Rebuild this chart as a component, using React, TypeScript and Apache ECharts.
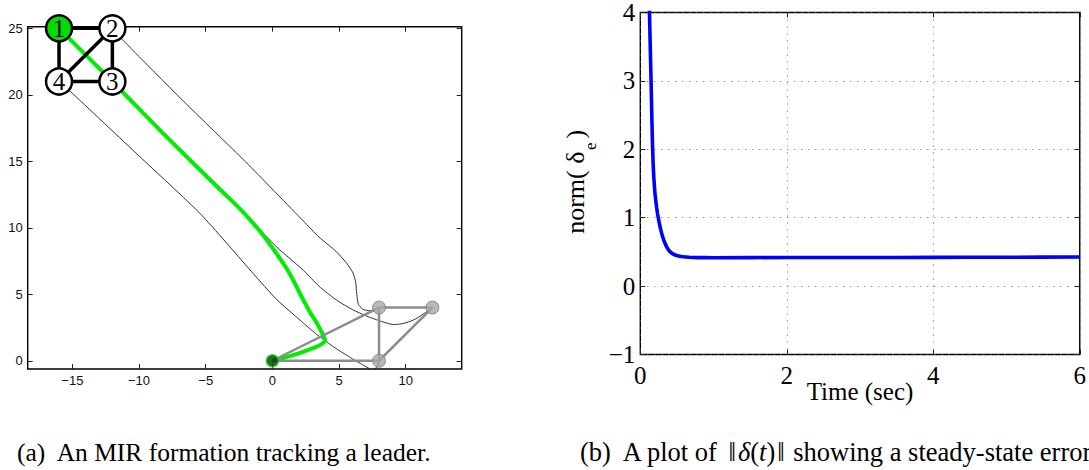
import React, { useEffect, useRef } from "react";
import * as echarts from "echarts";

// ---------- (a) formation plot ----------
const xTicksA = [-15, -10, -5, 0, 5, 10];
const yTicksA = [0, 5, 10, 15, 20, 25];
const nodeLabels = ["1", "2", "3", "4"];

// agent positions at the start (leader first) and in the final square formation
const startPositions = [
  [0, 0],
  [8, 4],
  [12, 4],
  [8, 0],
];
const finalPositions = [
  [-16, 25],
  [-12, 25],
  [-12, 21],
  [-16, 21],
];
// sensing graph, as index pairs into the position lists
const formationEdges = [
  [0, 1],
  [0, 3],
  [1, 2],
  [1, 3],
  [3, 2],
];

// leader trajectory
const leaderPath = [
  [0, 0], [0.7, 0.18], [1.4, 0.38], [2.1, 0.6], [2.7, 0.82], [3.3, 1.05],
  [3.75, 1.3], [3.95, 1.55], [3.8, 1.95], [3.3, 2.9], [2.85, 3.6], [2.2, 4.8],
  [1.6, 6.0], [1.0, 7.05], [0.35, 8.0], [-0.5, 9.2], [-1.45, 10.35], [-2.5, 11.5],
  [-4, 12.95], [-8.2, 17.1], [-12, 21], [-16, 25],
];
// follower trajectories
const agent2Path = [
  [8, 4], [7.35, 3.76], [6.8, 3.86], [6.45, 4.25], [6.33, 5.0], [6.25, 5.9],
  [6.05, 6.6], [5.6, 7.3], [4.8, 8.2], [3.5, 9.3], [2.33, 10.5], [-2, 14.95],
  [-6.65, 19.5], [-11.3, 24.2], [-12, 25],
];
const agent3Path = [
  [12, 4], [11.3, 3.5], [10.6, 3.07], [9.8, 2.8], [9.1, 2.72], [8.2, 2.95],
  [7.1, 3.35], [6.0, 3.85], [4.83, 4.55], [3.5, 5.6], [2.33, 6.8], [0.33, 8.55],
  [-1.45, 10.4], [-5, 14], [-8.5, 17.5], [-12, 21],
];
const agent4Path = [
  [8, 0], [7.9, -0.4], [7.5, -0.72], [7.2, -0.55], [6.0, 0.15], [4.58, 1.05],
  [3.3, 2.0], [2.08, 3.05], [0.33, 4.6], [-1.43, 6.55], [-5.4, 11.05],
  [-10, 15.4], [-15.2, 20.3], [-16, 21],
];

// ---------- (b) error norm plot ----------
const timeSec = [
  0.08, 0.1, 0.125, 0.136, 0.147, 0.157, 0.167, 0.175, 0.183, 0.192, 0.2, 0.209,
  0.222, 0.235, 0.247, 0.265, 0.285, 0.304, 0.33, 0.36, 0.4, 0.45, 0.51, 0.58,
  0.67, 0.78, 1.0, 2.0, 3.0, 4.0, 5.0, 6.0,
];
const deltaNorm = [
  6.0, 5.05, 4.0, 3.5, 3.0, 2.5, 2.05, 1.8, 1.62, 1.47, 1.36, 1.27,
  1.155, 1.06, 0.99, 0.89, 0.8, 0.725, 0.645, 0.575, 0.51, 0.468, 0.443, 0.43,
  0.421, 0.417, 0.415, 0.418, 0.418, 0.42, 0.422, 0.425,
];

const serif = "'Liberation Serif', 'Times New Roman', serif";
const sans = "'Liberation Sans', Arial, Helvetica, sans-serif";
const minus = (v: number) => String(v).replace("-", "\u2212");

const tickOnly = {
  axisLine: { show: false, onZero: false },
  axisLabel: { show: false },
  splitLine: { show: false },
};
const noLine = { show: false, onZero: false };

function buildOption(): any {
  const green = "#00ee00";
  const thin = (data: number[][]) => ({
    type: "line",
    xAxisIndex: 0,
    yAxisIndex: 0,
    data,
    symbol: "none",
    smooth: 0.2,
    clip: true,
    silent: true,
    lineStyle: { color: "#1a1a1a", width: 0.9 },
    z: 2,
  });
  const edge = (a: number[], b: number[], color: string, width: number, z: number) => ({
    type: "line",
    xAxisIndex: 0,
    yAxisIndex: 0,
    data: [a, b],
    symbol: "none",
    silent: true,
    lineStyle: { color, width },
    z,
  });

  const series: any[] = [
    thin(agent2Path),
    thin(agent3Path),
    thin(agent4Path),
    {
      type: "line",
      xAxisIndex: 0,
      yAxisIndex: 0,
      data: leaderPath,
      symbol: "none",
      smooth: 0.2,
      silent: true,
      lineStyle: { color: green, width: 4 },
      z: 3,
    },
    ...formationEdges.map(([a, b]) => edge(startPositions[a], startPositions[b], "#8c8c8c", 2.5, 4)),
    {
      type: "scatter",
      xAxisIndex: 0,
      yAxisIndex: 0,
      clip: false,
      silent: true,
      data: startPositions.map((p, i) => ({
        value: p,
        symbolSize: i === 0 ? 12 : 13,
        itemStyle:
          i === 0
            ? { color: "#003800", borderColor: "#00dd00", borderWidth: 1.5 }
            : { color: "#a8a8a8", borderColor: "#7d7d7d", borderWidth: 1 },
      })),
      z: 5,
    },
    ...formationEdges.map(([a, b]) => edge(finalPositions[a], finalPositions[b], "#000", 3.5, 6)),
    {
      type: "scatter",
      xAxisIndex: 0,
      yAxisIndex: 0,
      clip: false,
      silent: true,
      symbolSize: 26,
      data: finalPositions.map((p, i) => ({
        value: p,
        itemStyle: { color: i === 0 ? "#00dd00" : "#ffffff", borderColor: "#000", borderWidth: 2.5, opacity: 1 },
      })),
      label: {
        show: true,
        position: "inside",
        formatter: (p: any) => nodeLabels[p.dataIndex],
        fontFamily: serif,
        fontSize: 25,
        color: "#000",
        textBorderWidth: 0,
        textBorderColor: "transparent",
      },
      z: 7,
    },
    {
      type: "line",
      xAxisIndex: 2,
      yAxisIndex: 2,
      data: timeSec.map((t, i) => [t, deltaNorm[i]]),
      symbol: "none",
      smooth: 0.1,
      clip: true,
      silent: true,
      lineStyle: { color: "#0000ff", width: 3.6 },
      z: 3,
    },
  ];

  const tickA = (vals: number[]) => ({
    inside: true,
    length: 5,
    customValues: vals,
    lineStyle: { color: "#222", width: 1 },
  });
  const tickB = { inside: true, length: 5, lineStyle: { color: "#222", width: 1 } };
  const dotted = { show: true, lineStyle: { color: "#666", width: 1, type: [1, 6] } };

  return {
    animation: false,
    backgroundColor: "#fff",
    grid: [
      { left: 27.7, top: 26.7, width: 434, height: 342.3, show: true, borderColor: "#000", borderWidth: 1.4 },
      { left: 640.3, top: 11, width: 439.7, height: 343.5, show: true, borderColor: "#000", borderWidth: 1.4 },
    ],
    xAxis: [
      {
        type: "value", gridIndex: 0, min: -18.35, max: 14.2,
        axisLine: noLine, splitLine: { show: false },
        axisTick: tickA(xTicksA),
        axisLabel: { customValues: xTicksA, formatter: minus, fontFamily: sans, fontSize: 13, color: "#111", margin: 5 },
      },
      { type: "value", gridIndex: 0, position: "top", min: -18.35, max: 14.2, axisTick: tickA(xTicksA), ...tickOnly },
      {
        type: "value", gridIndex: 1, min: 0, max: 6, interval: 2,
        axisLine: noLine, splitLine: dotted, axisTick: tickB,
        axisLabel: { formatter: minus, fontFamily: serif, fontSize: 25, color: "#000", margin: 8 },
      },
      { type: "value", gridIndex: 1, position: "top", min: 0, max: 6, interval: 2, axisTick: tickB, ...tickOnly },
    ],
    yAxis: [
      {
        type: "value", gridIndex: 0, min: -0.62, max: 25.12,
        axisLine: noLine, splitLine: { show: false },
        axisTick: tickA(yTicksA),
        axisLabel: { customValues: yTicksA, formatter: minus, fontFamily: sans, fontSize: 13, color: "#111", margin: 5 },
      },
      { type: "value", gridIndex: 0, position: "right", min: -0.62, max: 25.12, axisTick: tickA(yTicksA), ...tickOnly },
      {
        type: "value", gridIndex: 1, min: -1, max: 4, interval: 1,
        axisLine: noLine, splitLine: dotted, axisTick: tickB,
        axisLabel: { formatter: minus, fontFamily: serif, fontSize: 25, color: "#000", margin: 5 },
      },
      { type: "value", gridIndex: 1, position: "right", min: -1, max: 4, interval: 1, axisTick: tickB, ...tickOnly },
    ],
    series,
    graphic: [
      {
        type: "text",
        x: 860,
        y: 391,
        style: {
          text: "Time (sec)", fontFamily: serif, fontSize: 25, fill: "#000",
          align: "center", verticalAlign: "middle", textAlign: "center", textVerticalAlign: "middle",
        },
      },
      {
        type: "group",
        x: 584,
        y: 182.5,
        rotation: Math.PI / 2,
        children: [
          {
            type: "text", x: 31, y: -8.6,
            style: { text: "norm( \u03b4", fontFamily: serif, fontSize: 26, fill: "#000", align: "right", verticalAlign: "middle", textAlign: "right", textVerticalAlign: "middle" },
          },
          {
            type: "text", x: 32.5, y: 6.6,
            style: { text: "e", fontFamily: serif, fontSize: 17, fill: "#000", align: "left", verticalAlign: "middle", textAlign: "left", textVerticalAlign: "middle" },
          },
          {
            type: "text", x: 44, y: -8.6,
            style: { text: ")", fontFamily: serif, fontSize: 26, fill: "#000", align: "left", verticalAlign: "middle", textAlign: "left", textVerticalAlign: "middle" },
          },
        ],
      },
      {
        type: "text",
        x: 17,
        y: 452,
        style: {
          text: "(a)  An MIR formation tracking a leader.", fontFamily: serif, fontSize: 25.5, fill: "#000",
          align: "left", verticalAlign: "middle", textAlign: "left", textVerticalAlign: "middle",
        },
      },
      {
        type: "text",
        x: 580,
        y: 452,
        style: {
          text: "(b)  A plot of {n|\u2016}{i|\u03b4}({i|t}){n|\u2016} showing a steady-state error.",
          fontFamily: serif, fontSize: 26.5, fill: "#000",
          align: "left", verticalAlign: "middle", textAlign: "left", textVerticalAlign: "middle",
          rich: {
            i: { fontFamily: serif, fontSize: 26.5, fontStyle: "italic", fill: "#000" },
            n: { fontFamily: serif, fontSize: 26.5, fill: "#000", padding: [0, 2, 0, 2] },
          },
        },
      },
    ],
  };
}

export default function App() {
  const ref = useRef<HTMLDivElement>(null);
  useEffect(() => {
    if (!ref.current) return;
    const chart = echarts.init(ref.current, undefined, { renderer: "svg" });
    chart.setOption(buildOption());
    return () => chart.dispose();
  }, []);
  return (
    <div
      ref={ref}
      style={{ position: "fixed", left: 0, top: 0, width: 1089, height: 470, background: "#fff" }}
    />
  );
}
